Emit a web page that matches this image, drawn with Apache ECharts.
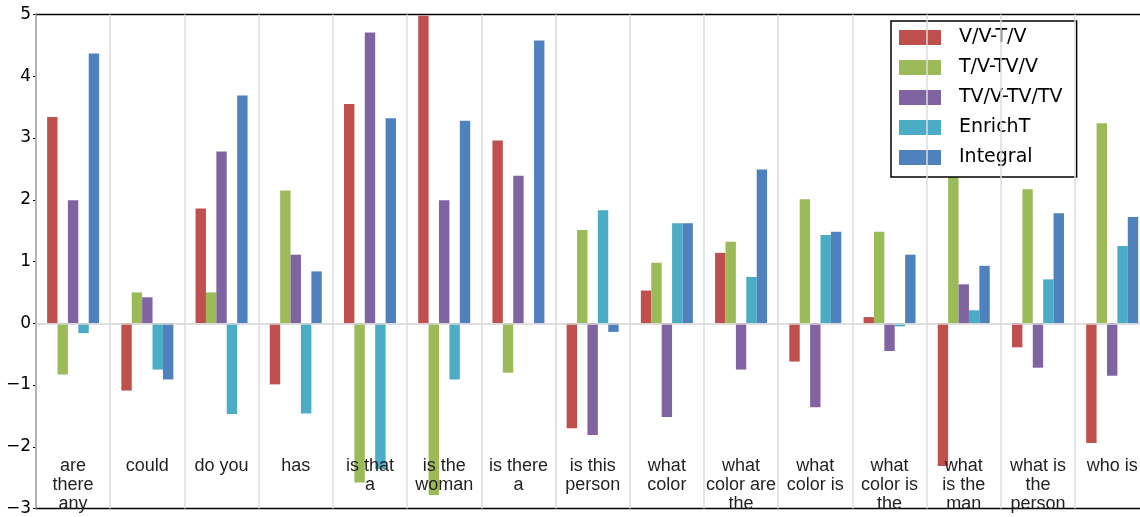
<!DOCTYPE html>
<html>
<head>
<meta charset="utf-8">
<script src="https://cdn.jsdelivr.net/npm/echarts@6/dist/echarts.min.js"></script>
<style>
  html, body { margin: 0; padding: 0; overflow: hidden; background: #fff; }
  #chart { width: 1150px; height: 517px; }
</style>
</head>
<body>
<div id="chart"></div>
<script>
// question prefixes (x categories)
const categories = [
  'are\nthere\nany', 'could', 'do you', 'has', 'is that\na', 'is the\nwoman', 'is there\na',
  'is this\nperson', 'what\ncolor', 'what\ncolor are\nthe', 'what\ncolor is', 'what\ncolor is\nthe',
  'what\nis the\nman', 'what is\nthe\nperson', 'who is'
]

const seriesNames = ['V/V-T/V', 'T/V-TV/V', 'TV/V-TV/TV', 'EnrichT', 'Integral']
const seriesColors = ['#c0504d', '#9bbb59', '#8064a2', '#4bacc6', '#4f81bd']

const vvTv   = [3.34, -1.09, 1.86, -0.99, 3.55, 4.98, 2.96, -1.70, 0.53, 1.14, -0.62, 0.10, -2.31, -0.39, -1.94]
const tvTvv  = [-0.83, 0.50, 0.50, 2.15, -2.58, -2.78, -0.80, 1.51, 0.98, 1.32, 2.01, 1.48, 2.70, 2.17, 3.24]
const tvvTvtv = [1.99, 0.42, 2.78, 1.11, 4.71, 1.99, 2.39, -1.81, -1.52, -0.75, -1.36, -0.45, 0.63, -0.72, -0.85]
const enrichT = [-0.16, -0.75, -1.47, -1.46, -2.36, -0.91, 0, 1.83, 1.62, 0.75, 1.43, -0.05, 0.21, 0.71, 1.25]
const integral = [4.37, -0.91, 3.69, 0.84, 3.32, 3.28, 4.58, -0.14, 1.62, 2.49, 1.48, 1.11, 0.93, 1.78, 1.72]

const yTicks = [-3, -2, -1, 0, 1, 2, 3, 4, 5]

const chart = echarts.init(document.getElementById('chart'), null, { renderer: 'canvas' })

const values = [vvTv, tvTvv, tvvTvtv, enrichT, integral]
const series = values.map((data, i) => ({
  type: 'bar',
  name: seriesNames[i],
  data,
  barWidth: 10.4,
  barGap: '0%',
  itemStyle: { color: seriesColors[i] },
  ...(i === 0 ? {
    markLine: {
      silent: true, symbol: 'none', label: { show: false },
      lineStyle: { color: '#d4d4d4', width: 1.5, type: 'solid' },
      data: [{ yAxis: 0 }],
    },
  } : {}),
}))

chart.setOption({
  animation: false,
  backgroundColor: '#fff',
  grid: {
    left: 36, top: 14.5, width: 1113.3, bottom: 4.5,
    show: true, borderColor: '#000', borderWidth: 1.5, backgroundColor: 'transparent',
  },
  legend: {
    orient: 'vertical', left: 891, top: 21,
    padding: [7, 14, 10, 8],
    itemWidth: 42, itemHeight: 15, itemGap: 11,
    icon: 'rect',
    backgroundColor: '#fff', borderColor: '#000', borderWidth: 1.5,
    textStyle: { fontFamily: 'DejaVu Sans', fontSize: 19, lineHeight: 15, color: '#000', padding: [0, 0, 0, 13] },
    data: seriesNames,
  },
  xAxis: {
    type: 'category', data: categories, z: 5,
    axisLine: { show: false }, axisTick: { show: false },
    axisLabel: {
      interval: 0, margin: -51.5, color: '#231f20',
      fontFamily: 'Liberation Sans', fontSize: 18, lineHeight: 19,
    },
    splitLine: { show: true, interval: 0, lineStyle: { color: '#dcdcdc', width: 1.5 } },
  },
  yAxis: {
    type: 'value', min: yTicks[0], max: yTicks[yTicks.length - 1], interval: 1,
    axisLine: { show: false },
    axisTick: { show: true, length: 3, lineStyle: { color: '#000' } },
    axisLabel: {
      margin: 5, color: '#000', fontFamily: 'DejaVu Sans', fontSize: 17,
      formatter: v => (v < 0 ? '\u2212' + (-v) : '' + v),
    },
    splitLine: { show: false },
  },
  series,
})
</script>
</body>
</html>
